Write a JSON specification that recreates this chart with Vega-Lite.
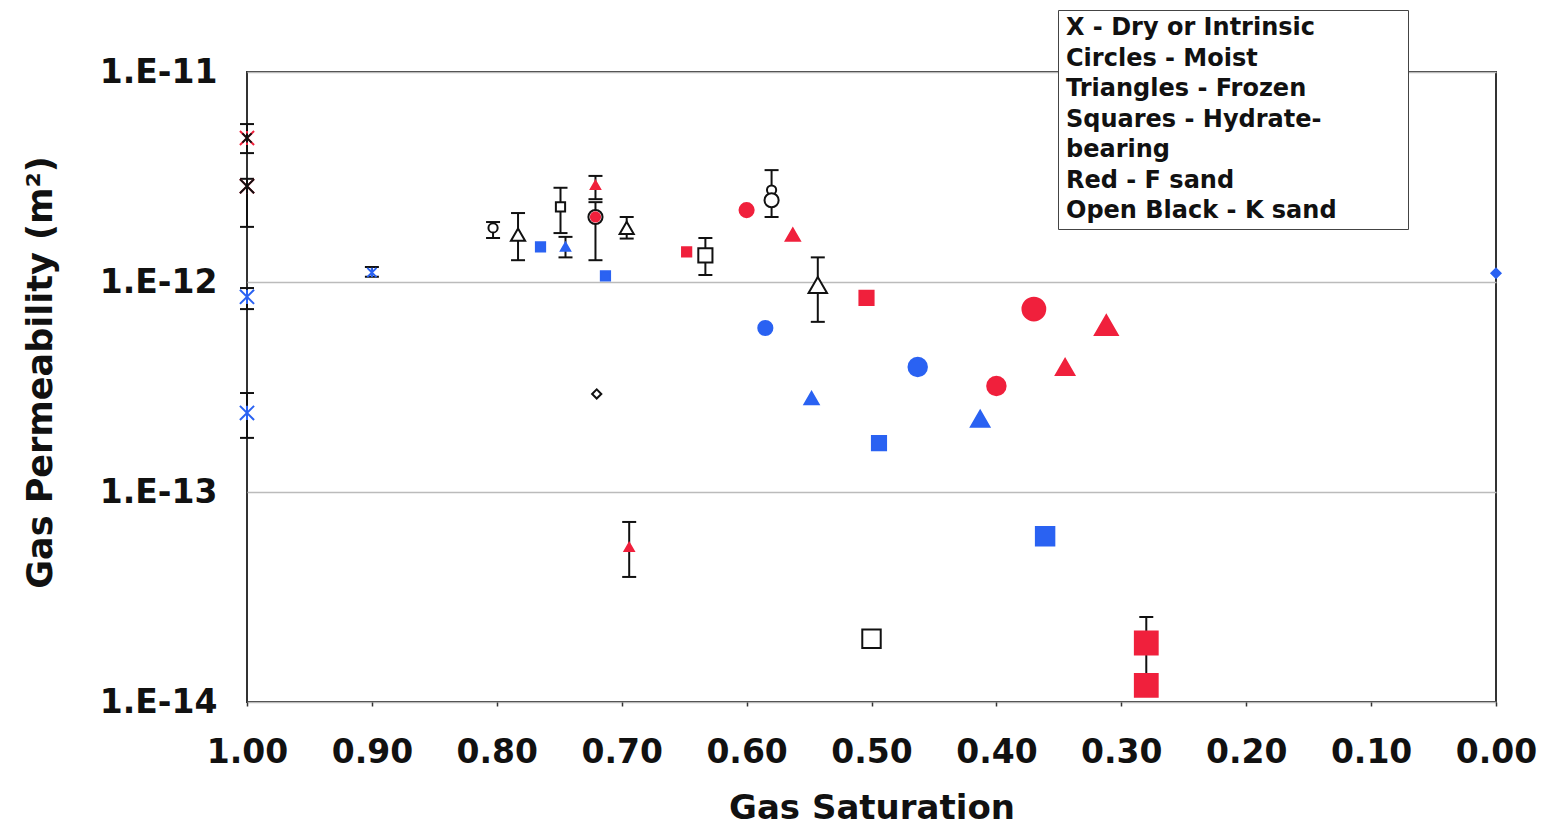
{
  "$schema": "https://vega.github.io/schema/vega-lite/v6.json",
  "width": 1249,
  "height": 630,
  "autosize": {"type": "none"},
  "padding": {"left": 247, "top": 72, "right": 50, "bottom": 125},
  "background": "white",
  "config": {
    "view": {"stroke": "#333", "strokeWidth": 2},
    "font": "DejaVu Sans"
  },
  "datasets": {
    "pts": [
      {"sg": 1.0, "k": 4.85e-12, "state": "Dry", "sand": "F", "sz": "m", "lo": 4.11e-12, "hi": 5.65e-12},
      {"sg": 1.0, "k": 4.85e-12, "state": "Dry", "sand": "K", "sz": "s", "lo": null, "hi": null},
      {"sg": 1.0, "k": 2.86e-12, "state": "Dry", "sand": "F", "sz": "m", "lo": 1.83e-12, "hi": 3.1e-12},
      {"sg": 1.0, "k": 2.86e-12, "state": "Dry", "sand": "K", "sz": "m", "lo": null, "hi": null},
      {"sg": 1.0, "k": 8.5e-13, "state": "Dry", "sand": "B", "sz": "m", "lo": 7.43e-13, "hi": 9.36e-13},
      {"sg": 1.0, "k": 2.38e-13, "state": "Dry", "sand": "B", "sz": "m", "lo": 1.81e-13, "hi": 2.96e-13},
      {"sg": 0.9, "k": 1.11e-12, "state": "Dry", "sand": "B", "sz": "s", "lo": 1.06e-12, "hi": 1.18e-12},
      {"sg": 0.803, "k": 1.81e-12, "state": "Moist", "sand": "K", "sz": "s", "lo": 1.62e-12, "hi": 1.93e-12},
      {"sg": 0.783, "k": 1.68e-12, "state": "Frozen", "sand": "K", "sz": "m", "lo": 1.27e-12, "hi": 2.13e-12},
      {"sg": 0.765, "k": 1.47e-12, "state": "Hydrate", "sand": "B", "sz": "s", "lo": null, "hi": null},
      {"sg": 0.749, "k": 2.28e-12, "state": "Hydrate", "sand": "K", "sz": "s", "lo": 1.71e-12, "hi": 2.81e-12},
      {"sg": 0.745, "k": 1.47e-12, "state": "Frozen", "sand": "B", "sz": "s", "lo": 1.31e-12, "hi": 1.64e-12},
      {"sg": 0.721, "k": 2.9e-12, "state": "Frozen", "sand": "F", "sz": "s", "lo": 2.48e-12, "hi": 3.2e-12},
      {"sg": 0.721, "k": 2.04e-12, "state": "Moist", "sand": "K", "sz": "m", "lo": 1.27e-12, "hi": 2.4e-12},
      {"sg": 0.721, "k": 2.04e-12, "state": "Moist", "sand": "F", "sz": "s", "lo": null, "hi": null},
      {"sg": 0.713, "k": 1.07e-12, "state": "Hydrate", "sand": "B", "sz": "s", "lo": null, "hi": null},
      {"sg": 0.696, "k": 1.81e-12, "state": "Frozen", "sand": "K", "sz": "m", "lo": 1.61e-12, "hi": 2.04e-12},
      {"sg": 0.648, "k": 1.39e-12, "state": "Hydrate", "sand": "F", "sz": "s", "lo": null, "hi": null},
      {"sg": 0.633, "k": 1.34e-12, "state": "Hydrate", "sand": "K", "sz": "m", "lo": 1.08e-12, "hi": 1.62e-12},
      {"sg": 0.6, "k": 2.2e-12, "state": "Moist", "sand": "F", "sz": "m", "lo": null, "hi": null},
      {"sg": 0.58, "k": 2.74e-12, "state": "Moist", "sand": "K", "sz": "s", "lo": null, "hi": null},
      {"sg": 0.58, "k": 2.45e-12, "state": "Moist", "sand": "K", "sz": "m", "lo": 2.04e-12, "hi": 3.41e-12},
      {"sg": 0.585, "k": 6.04e-13, "state": "Moist", "sand": "B", "sz": "m", "lo": null, "hi": null},
      {"sg": 0.563, "k": 1.68e-12, "state": "Frozen", "sand": "F", "sz": "m", "lo": null, "hi": null},
      {"sg": 0.543, "k": 9.68e-13, "state": "Frozen", "sand": "K", "sz": "l", "lo": 6.46e-13, "hi": 1.31e-12},
      {"sg": 0.72, "k": 2.93e-13, "state": "Other", "sand": "K", "sz": "s", "lo": null, "hi": null},
      {"sg": 0.548, "k": 2.8e-13, "state": "Frozen", "sand": "B", "sz": "m", "lo": null, "hi": null},
      {"sg": 0.504, "k": 8.4e-13, "state": "Hydrate", "sand": "F", "sz": "m", "lo": null, "hi": null},
      {"sg": 0.494, "k": 1.71e-13, "state": "Hydrate", "sand": "B", "sz": "m", "lo": null, "hi": null},
      {"sg": 0.463, "k": 3.94e-13, "state": "Moist", "sand": "B", "sz": "l", "lo": null, "hi": null},
      {"sg": 0.694, "k": 5.47e-14, "state": "Frozen", "sand": "F", "sz": "s", "lo": 3.94e-14, "hi": 7.2e-14},
      {"sg": 0.5, "k": 2.0e-14, "state": "Hydrate", "sand": "K", "sz": "l", "lo": null, "hi": null},
      {"sg": 0.4, "k": 3.2e-13, "state": "Moist", "sand": "F", "sz": "l", "lo": null, "hi": null},
      {"sg": 0.413, "k": 2.23e-13, "state": "Frozen", "sand": "B", "sz": "l", "lo": null, "hi": null},
      {"sg": 0.37, "k": 7.43e-13, "state": "Moist", "sand": "F", "sz": "xl", "lo": null, "hi": null},
      {"sg": 0.345, "k": 3.94e-13, "state": "Frozen", "sand": "F", "sz": "l", "lo": null, "hi": null},
      {"sg": 0.312, "k": 6.24e-13, "state": "Frozen", "sand": "F", "sz": "xl", "lo": null, "hi": null},
      {"sg": 0.361, "k": 6.16e-14, "state": "Hydrate", "sand": "B", "sz": "l", "lo": null, "hi": null},
      {"sg": 0.28, "k": 1.91e-14, "state": "Hydrate", "sand": "F", "sz": "xl", "lo": 1.2e-14, "hi": 2.54e-14},
      {"sg": 0.28, "k": 1.2e-14, "state": "Hydrate", "sand": "F", "sz": "xl", "lo": null, "hi": null},
      {"sg": 0.0, "k": 1.1e-12, "state": "Other", "sand": "B", "sz": "s", "lo": null, "hi": null}
    ],
    "leg": [
      {"txt": "X - Dry or Intrinsic"},
      {"txt": "Circles - Moist"},
      {"txt": "Triangles - Frozen"},
      {"txt": "Squares - Hydrate-"},
      {"txt": "bearing"},
      {"txt": "Red - F sand"},
      {"txt": "Open Black - K sand"}
    ]
  },
  "layer": [
    {
      "data": {"name": "pts"},
      "transform": [{"filter": "datum.lo != null"}],
      "mark": {"type": "rule", "color": "#111", "strokeWidth": 2},
      "encoding": {
        "x": {
          "field": "sg", "type": "quantitative",
          "scale": {"domain": [1, 0], "nice": false, "zero": false},
          "axis": {
            "title": "Gas Saturation",
            "values": [1, 0.9, 0.8, 0.7, 0.6, 0.5, 0.4, 0.3, 0.2, 0.1, 0],
            "format": ".2f",
            "grid": false, "domain": false,
            "ticks": true, "tickSize": 4, "tickColor": "#333", "tickWidth": 1.5,
            "labelFont": "DejaVu Sans", "labelFontSize": 33, "labelFontWeight": "bold", "labelColor": "#111",
            "labelPadding": 30, "labelFlush": false, "labelOverlap": false,
            "titleFont": "DejaVu Sans", "titleFontSize": 34, "titleFontWeight": "bold", "titleColor": "#111",
            "titlePadding": 22
          }
        },
        "y": {
          "field": "lo", "type": "quantitative",
          "scale": {"type": "log", "domain": [1e-14, 1e-11], "nice": false},
          "axis": {
            "title": "Gas Permeability (m²)",
            "values": [1e-14, 1e-13, 1e-12, 1e-11],
            "labelExpr": "'1.E' + round(log(datum.value) / LN10)",
            "grid": true, "gridColor": "#bbb", "gridWidth": 1.5,
            "domain": false, "ticks": false,
            "labelFont": "DejaVu Sans", "labelFontSize": 33, "labelFontWeight": "bold", "labelColor": "#111",
            "labelPadding": 30, "labelFlush": false, "labelOverlap": false,
            "titleFont": "DejaVu Sans", "titleFontSize": 35, "titleFontWeight": "bold", "titleColor": "#111",
            "titlePadding": 41, "titleY": 300
          }
        },
        "y2": {"field": "hi"}
      }
    },
    {
      "data": {"name": "pts"},
      "transform": [{"filter": "datum.lo != null"}],
      "mark": {"type": "tick", "orient": "horizontal", "size": 14, "thickness": 2, "color": "#111", "opacity": 1},
      "encoding": {
        "x": {"field": "sg", "type": "quantitative"},
        "y": {"field": "lo", "type": "quantitative"}
      }
    },
    {
      "data": {"name": "pts"},
      "transform": [{"filter": "datum.hi != null"}],
      "mark": {"type": "tick", "orient": "horizontal", "size": 14, "thickness": 2, "color": "#111", "opacity": 1},
      "encoding": {
        "x": {"field": "sg", "type": "quantitative"},
        "y": {"field": "hi", "type": "quantitative"}
      }
    },
    {
      "data": {"name": "pts"},
      "mark": {"type": "point", "filled": true, "strokeWidth": 2, "opacity": 1},
      "encoding": {
        "x": {"field": "sg", "type": "quantitative"},
        "y": {"field": "k", "type": "quantitative"},
        "shape": {
          "field": "state", "type": "nominal",
          "scale": {"domain": ["Dry", "Moist", "Frozen", "Hydrate", "Other"], "range": ["M-1,-1L1,1M-1,1L1,-1M0,-1L0,1", "circle", "triangle-up", "square", "diamond"]},
          "legend": null
        },
        "fill": {
          "field": "sand", "type": "nominal",
          "scale": {"domain": ["F", "B", "K"], "range": ["#f0203c", "#2a62f2", "white"]},
          "legend": null
        },
        "stroke": {
          "field": "sand", "type": "nominal",
          "scale": {"domain": ["F", "B", "K"], "range": ["#f0203c", "#2a62f2", "#111"]},
          "legend": null
        },
        "size": {
          "field": "sz", "type": "nominal",
          "scale": {"type": "ordinal", "domain": ["s", "m", "l", "xl"], "range": [85, 200, 340, 520]},
          "legend": null
        }
      }
    },
    {
      "data": {"name": "leg"},
      "mark": {"type": "point", "opacity": 0},
      "encoding": {
        "color": {
          "field": "txt", "type": "nominal",
          "scale": {
            "domain": ["X - Dry or Intrinsic", "Circles - Moist", "Triangles - Frozen", "Squares - Hydrate-", "bearing", "Red - F sand", "Open Black - K sand"],
            "range": ["white", "white", "white", "white", "white", "white", "white"]
          },
          "legend": {
            "title": "WW",
            "titleColor": "white",
            "titleOrient": "right",
            "titleFontSize": 24,
            "titlePadding": 12,
            "orient": "none",
            "legendX": 811,
            "legendY": -62,
            "strokeColor": "#444",
            "fillColor": "white",
            "padding": 6,
            "labelFont": "DejaVu Sans",
            "labelFontSize": 24,
            "labelFontWeight": "bold",
            "labelColor": "#111",
            "labelOffset": -22,
            "labelLimit": 0,
            "rowPadding": 6.5,
            "symbolSize": 0,
            "symbolOpacity": 0,
            "symbolStrokeWidth": 0,
            "symbolType": "circle"
          }
        }
      }
    }
  ]
}
